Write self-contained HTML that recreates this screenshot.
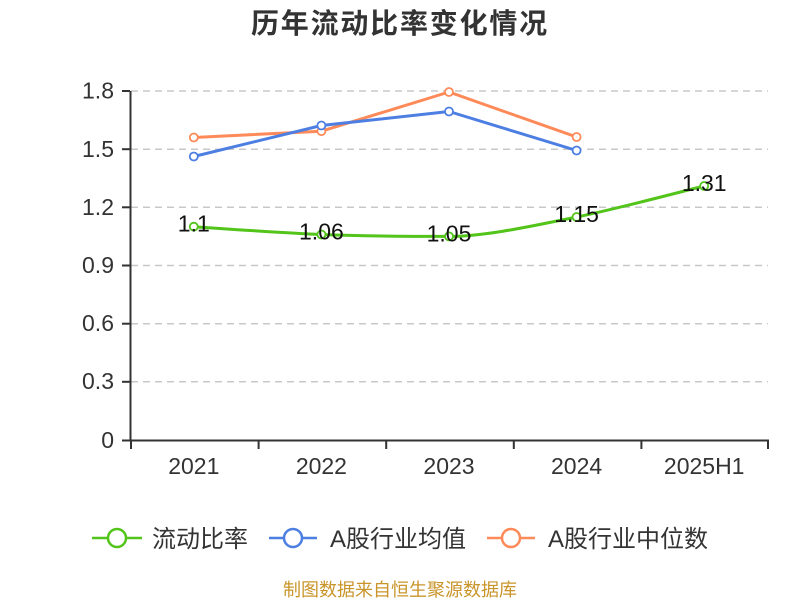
<!DOCTYPE html>
<html>
<head>
<meta charset="utf-8">
<style>
  html,body{margin:0;padding:0;background:#fff;}
  svg{display:block;}
  text{font-family:"Liberation Sans","Noto Sans CJK SC",sans-serif;}
</style>
</head>
<body>
<svg width="800" height="600" viewBox="0 0 800 600" xmlns="http://www.w3.org/2000/svg">
  <!-- Title -->
  <text x="400" y="33" text-anchor="middle" font-size="28" font-weight="bold" fill="#333" letter-spacing="1.8">历年流动比率变化情况</text>

  <!-- Grid lines -->
  <g stroke="#c8c8c8" stroke-width="1.5" stroke-dasharray="7,5" fill="none">
    <line x1="131" y1="91" x2="768" y2="91"/>
    <line x1="131" y1="149.2" x2="768" y2="149.2"/>
    <line x1="131" y1="207.3" x2="768" y2="207.3"/>
    <line x1="131" y1="265.5" x2="768" y2="265.5"/>
    <line x1="131" y1="323.7" x2="768" y2="323.7"/>
    <line x1="131" y1="381.8" x2="768" y2="381.8"/>
  </g>

  <!-- Axes -->
  <g stroke="#333" stroke-width="2" fill="none">
    <line x1="130.5" y1="91" x2="130.5" y2="441"/>
    <line x1="130" y1="440.5" x2="769" y2="440.5"/>
    <!-- y ticks -->
    <line x1="122" y1="91" x2="130" y2="91"/>
    <line x1="122" y1="149.2" x2="130" y2="149.2"/>
    <line x1="122" y1="207.3" x2="130" y2="207.3"/>
    <line x1="122" y1="265.5" x2="130" y2="265.5"/>
    <line x1="122" y1="323.7" x2="130" y2="323.7"/>
    <line x1="122" y1="381.8" x2="130" y2="381.8"/>
    <line x1="122" y1="440.5" x2="130" y2="440.5"/>
    <!-- x ticks -->
    <line x1="131" y1="440" x2="131" y2="449"/>
    <line x1="258.6" y1="440" x2="258.6" y2="449"/>
    <line x1="386.2" y1="440" x2="386.2" y2="449"/>
    <line x1="513.8" y1="440" x2="513.8" y2="449"/>
    <line x1="641.4" y1="440" x2="641.4" y2="449"/>
    <line x1="768" y1="440" x2="768" y2="449"/>
  </g>

  <!-- Y labels -->
  <g font-size="23" fill="#333" text-anchor="end">
    <text x="114" y="98.5">1.8</text>
    <text x="114" y="157">1.5</text>
    <text x="114" y="215">1.2</text>
    <text x="114" y="273">0.9</text>
    <text x="114" y="331">0.6</text>
    <text x="114" y="389">0.3</text>
    <text x="114" y="448">0</text>
  </g>

  <!-- X labels -->
  <g font-size="23" fill="#333" text-anchor="middle">
    <text x="193.8" y="474">2021</text>
    <text x="321.4" y="474">2022</text>
    <text x="449" y="474">2023</text>
    <text x="576.6" y="474">2024</text>
    <text x="704.2" y="474">2025H1</text>
  </g>

  <!-- Orange series -->
  <polyline points="193.8,137.5 321.4,131.2 449,92 576.6,137" fill="none" stroke="#fd8a58" stroke-width="3" stroke-linejoin="round"/>
  <!-- Blue series -->
  <polyline points="193.8,156.5 321.4,125.5 449,111.5 576.6,150.5" fill="none" stroke="#4d7fe3" stroke-width="3" stroke-linejoin="round"/>
  <!-- Green series -->
  <path d="M193.8,226.7 C212.9,227.9 283.1,233.05 321.4,234.5 C359.7,235.95 410.7,236.4 449,236.4 C487.3,236.4 538.3,224.6 576.6,217 C614.9,209.4 685.1,190.65 704.2,186" fill="none" stroke="#52c41a" stroke-width="3"/>

  <!-- Markers -->
  <g fill="#fff" stroke-width="1.8">
    <g stroke="#fd8a58">
      <circle cx="193.8" cy="137.5" r="4"/>
      <circle cx="321.4" cy="131.2" r="4"/>
      <circle cx="449" cy="92" r="4"/>
      <circle cx="576.6" cy="137" r="4"/>
    </g>
    <g stroke="#4d7fe3">
      <circle cx="193.8" cy="156.5" r="4"/>
      <circle cx="321.4" cy="125.5" r="4"/>
      <circle cx="449" cy="111.5" r="4"/>
      <circle cx="576.6" cy="150.5" r="4"/>
    </g>
    <g stroke="#52c41a">
      <circle cx="193.8" cy="226.7" r="4"/>
      <circle cx="321.4" cy="234.5" r="4"/>
      <circle cx="449" cy="236.4" r="4"/>
      <circle cx="576.6" cy="217" r="4"/>
      <circle cx="704.2" cy="186" r="4"/>
    </g>
  </g>

  <!-- Green labels -->
  <g font-size="23" fill="#111" text-anchor="middle">
    <text x="193.8" y="231.5">1.1</text>
    <text x="321.4" y="239.5">1.06</text>
    <text x="449" y="241.5">1.05</text>
    <text x="576.6" y="222">1.15</text>
    <text x="704.2" y="191">1.31</text>
  </g>

  <!-- Legend -->
  <g stroke-width="2.5" fill="#fff">
    <line x1="92" y1="538" x2="142" y2="538" stroke="#52c41a"/>
    <circle cx="117" cy="538" r="9" stroke="#52c41a"/>
    <line x1="269" y1="538" x2="317" y2="538" stroke="#4d7fe3"/>
    <circle cx="293" cy="538" r="9" stroke="#4d7fe3"/>
    <line x1="487" y1="538" x2="535" y2="538" stroke="#fd8a58"/>
    <circle cx="511" cy="538" r="9" stroke="#fd8a58"/>
  </g>
  <g font-size="24" fill="#333">
    <text x="152" y="547">流动比率</text>
    <text x="330" y="547">A股行业均值</text>
    <text x="548" y="547">A股行业中位数</text>
  </g>

  <!-- Footer -->
  <text x="400" y="596" text-anchor="middle" font-size="18" fill="#c9952a">制图数据来自恒生聚源数据库</text>
</svg>
</body>
</html>
